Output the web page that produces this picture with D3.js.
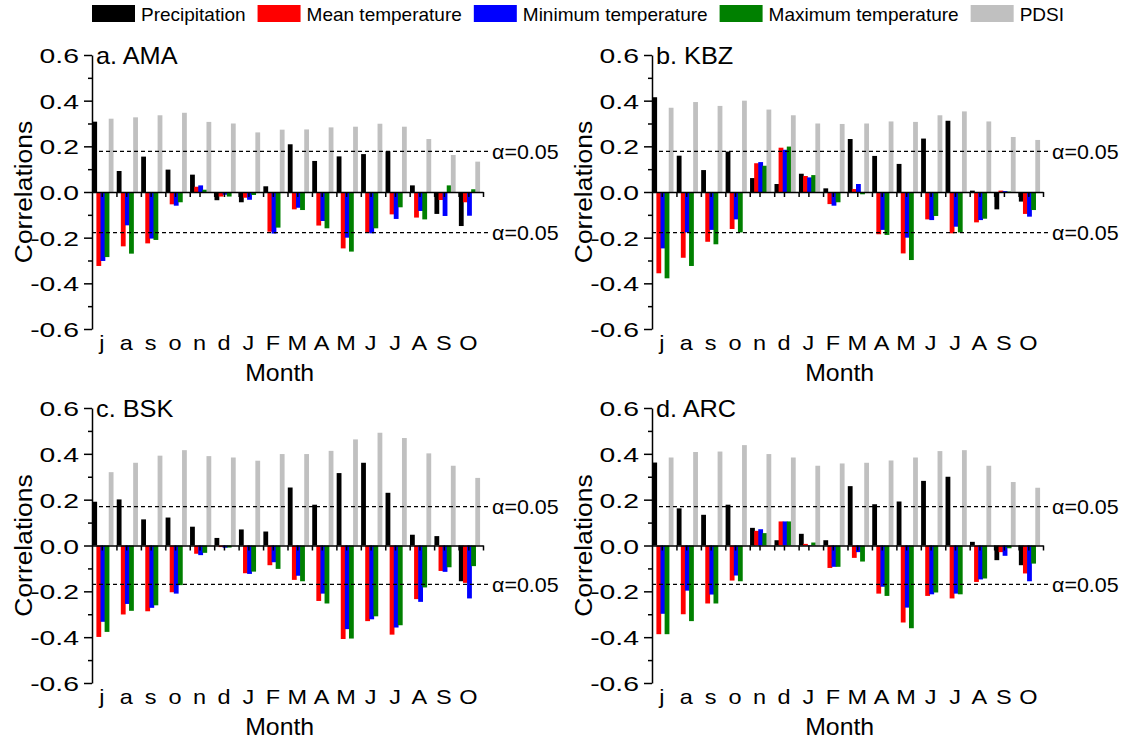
<!DOCTYPE html>
<html><head><meta charset="utf-8">
<script src="https://cdn.jsdelivr.net/npm/d3@7"></script>
<style>body{margin:0;background:#fff}text{font-family:"Liberation Sans",Arial,sans-serif;fill:#000}</style>
</head><body><svg id="chart" width="1123" height="740"></svg>
<script>
const months = ["j","a","s","o","n","d","J","F","M","A","M","J","J","A","S","O"];
const seriesNames = ["Precipitation","Mean temperature","Minimum temperature","Maximum temperature","PDSI"];
const seriesColors = ["#000000","#ff0000","#0000ff","#008000","#c0c0c0"];
const yTicks = [-0.6,-0.4,-0.2,0.0,0.2,0.4,0.6];
const yMinorTicks = [-0.5,-0.3,-0.1,0.1,0.3,0.5];
const panelTitles = ["a. AMA","b. KBZ","c. BSK","d. ARC"];
const alphaLevels = [0.178,0.178,0.17,0.17];
const alphaLabel = "α=0.05";

// a. AMA
const amaPrecip = [0.308,0.092,0.155,0.098,0.076,-0.036,-0.045,0.025,0.209,0.136,0.156,0.166,0.178,0.029,-0.096,-0.149];
const amaMeanT  = [-0.324,-0.238,-0.225,-0.054,0.023,-0.02,-0.025,-0.174,-0.076,-0.147,-0.247,-0.178,-0.098,-0.112,-0.035,-0.045];
const amaMinT   = [-0.302,-0.146,-0.204,-0.06,0.029,-0.012,-0.034,-0.182,-0.069,-0.127,-0.2,-0.181,-0.118,-0.083,-0.105,-0.104];
const amaMaxT   = [-0.285,-0.27,-0.21,-0.045,0.01,-0.02,-0.013,-0.156,-0.079,-0.159,-0.261,-0.159,-0.067,-0.12,0.029,0.012];
const amaPdsi   = [0.321,0.327,0.336,0.347,0.307,0.30,0.261,0.273,0.274,0.283,0.286,0.299,0.286,0.232,0.162,0.133];
// b. KBZ
const kbzPrecip = [0.415,0.159,0.096,0.177,0.061,0.035,0.08,0.016,0.232,0.158,0.123,0.234,0.312,0.006,-0.076,-0.042];
const kbzMeanT  = [-0.356,-0.288,-0.218,-0.162,0.126,0.194,0.07,-0.053,0.013,-0.185,-0.269,-0.12,-0.181,-0.133,0.006,-0.096];
const kbzMinT   = [-0.247,-0.177,-0.166,-0.12,0.131,0.185,0.064,-0.06,0.035,-0.166,-0.2,-0.123,-0.152,-0.123,0.004,-0.108];
const kbzMaxT   = [-0.378,-0.324,-0.229,-0.177,0.115,0.199,0.074,-0.045,-0.01,-0.188,-0.298,-0.105,-0.177,-0.117,0.002,-0.079];
const kbzPdsi   = [0.369,0.394,0.377,0.40,0.361,0.336,0.30,0.298,0.30,0.309,0.307,0.336,0.353,0.309,0.241,0.228];
// c. BSK
const bskPrecip = [0.191,0.201,0.114,0.122,0.082,0.033,0.07,0.061,0.253,0.178,0.316,0.361,0.23,0.047,0.041,-0.156];
const bskMeanT  = [-0.399,-0.301,-0.287,-0.204,-0.036,-0.007,-0.121,-0.086,-0.15,-0.242,-0.408,-0.33,-0.389,-0.234,-0.111,-0.163];
const bskMinT   = [-0.333,-0.255,-0.272,-0.21,-0.042,-0.01,-0.124,-0.073,-0.132,-0.21,-0.365,-0.322,-0.358,-0.246,-0.115,-0.231];
const bskMaxT   = [-0.377,-0.285,-0.261,-0.173,-0.032,-0.009,-0.114,-0.102,-0.156,-0.253,-0.406,-0.309,-0.348,-0.183,-0.095,-0.09];
const bskPdsi   = [0.32,0.361,0.392,0.416,0.39,0.384,0.37,0.399,0.399,0.413,0.463,0.492,0.469,0.402,0.348,0.295];
// d. ARC
const arcPrecip = [0.362,0.162,0.134,0.178,0.077,0.023,0.051,0.023,0.259,0.18,0.192,0.282,0.30,0.016,-0.064,-0.086];
const arcMeanT  = [-0.387,-0.30,-0.253,-0.153,0.064,0.105,0.007,-0.098,-0.054,-0.21,-0.336,-0.22,-0.231,-0.159,-0.029,-0.122];
const arcMinT   = [-0.298,-0.197,-0.214,-0.131,0.071,0.105,0.002,-0.093,-0.029,-0.18,-0.271,-0.213,-0.21,-0.148,-0.045,-0.156];
const arcMaxT   = [-0.387,-0.33,-0.253,-0.156,0.054,0.105,0.013,-0.093,-0.07,-0.22,-0.361,-0.205,-0.213,-0.144,-0.012,-0.079];
const arcPdsi   = [0.384,0.408,0.41,0.438,0.399,0.384,0.348,0.358,0.361,0.371,0.384,0.412,0.416,0.348,0.277,0.252];

const panelSeries = [
  [amaPrecip,amaMeanT,amaMinT,amaMaxT,amaPdsi],
  [kbzPrecip,kbzMeanT,kbzMinT,kbzMaxT,kbzPdsi],
  [bskPrecip,bskMeanT,bskMinT,bskMaxT,bskPdsi],
  [arcPrecip,arcMeanT,arcMinT,arcMaxT,arcPdsi]
];

// layout (pixels)
const layout = [
  {x0:92,x1:483,y0:55,y1:329},
  {x0:652,x1:1043,y0:55,y1:329},
  {x0:92,x1:483,y0:408,y1:683},
  {x0:652,x1:1043,y0:408,y1:683}
];

const svg = d3.select("#chart");
const AX = 1.5;

panelSeries.forEach((series, p) => {
  const L = layout[p];
  const g = svg.append("g");
  const x = d3.scaleBand().domain(d3.range(months.length)).range([L.x0, L.x1]);
  const xl = d3.scaleLinear().domain([0, months.length]).range([L.x0, L.x1]);
  const step = x.step();
  const inner = d3.scaleBand().domain(d3.range(series.length)).range([0.3, 0.3 + 0.84*step]);
  const bw = inner.bandwidth() + 0.7;
  const y = d3.scaleLinear().domain([-0.6, 0.6]).range([L.y1, L.y0]);

  // bars
  series.forEach((vals, s) => {
    g.append("g").selectAll("rect").data(vals).join("rect")
      .attr("x", (d,i) => x(i) + inner(s))
      .attr("y", d => y(Math.max(d,0)))
      .attr("width", bw)
      .attr("height", d => Math.abs(y(d) - y(0)))
      .attr("fill", seriesColors[s]);
  });

  // alpha lines
  const xEnd = L.x1 + 6;
  [alphaLevels[p], -alphaLevels[p]].forEach(a => {
    g.append("line").attr("x1", L.x0).attr("x2", xEnd)
      .attr("y1", y(a)).attr("y2", y(a))
      .attr("stroke", "#000").attr("stroke-width", 1.3).attr("stroke-dasharray", "4,3");
    g.append("text").attr("transform", `translate(${L.x1+9},${y(a)}) scale(1.02,1)`)
      .attr("dominant-baseline", "central").attr("font-size", 21).text(alphaLabel);
  });

  // x axis at zero: ticks at month positions and boundaries
  const xAxisMajor = d3.axisBottom(xl).tickValues(d3.range(months.length).map(i => i + 0.4))
    .tickSize(5).tickSizeOuter(0).tickFormat("");
  const xAxisMinor = d3.axisBottom(xl).tickValues(d3.range(1, months.length + 1))
    .tickSize(5).tickSizeOuter(0).tickFormat("");
  const gx = g.append("g").attr("transform", `translate(0,${y(0)})`).call(xAxisMajor);
  const gx2 = g.append("g").attr("transform", `translate(0,${y(0)})`).call(xAxisMinor);
  [gx, gx2].forEach(a => { a.selectAll("path,line").attr("stroke", "#000").attr("stroke-width", AX); });
  gx2.select(".domain").remove();

  // month labels at bottom
  g.append("g").selectAll("text").data(months).join("text")
    .attr("transform", (d,i) => `translate(${xl(i + 0.4)},${L.y1 + 21}) scale(1.12,1)`)
    .attr("text-anchor", "middle").attr("font-size", 21).text(d => d);

  // y axis
  const yAxis = d3.axisLeft(y).tickValues(yTicks).tickSize(8).tickSizeOuter(0).tickFormat(d => d.toFixed(1));
  const gy = g.append("g").attr("transform", `translate(${L.x0},0)`).call(yAxis);
  gy.selectAll("path,line").attr("stroke", "#000").attr("stroke-width", AX);
  gy.selectAll("text").attr("x", null).attr("dy", null)
    .attr("dominant-baseline", "central")
    .attr("transform", "translate(-13,0) scale(1.35,1)")
    .attr("font-size", 21).attr("font-family", '"Liberation Sans",Arial,sans-serif').attr("fill", "#000");
  const yAxisMinor = d3.axisLeft(y).tickValues(yMinorTicks).tickSize(4).tickSizeOuter(0).tickFormat("");
  const gym = g.append("g").attr("transform", `translate(${L.x0},0)`).call(yAxisMinor);
  gym.select(".domain").remove();
  gym.selectAll("line").attr("stroke", "#000").attr("stroke-width", AX);

  // titles
  g.append("text").attr("transform", `translate(${L.x0 + 4},${L.y0 + 9}) scale(1.1,1)`)
    .attr("font-size", 23).text(panelTitles[p]);
  g.append("text").attr("transform", `translate(${L.x0 + 0.48*(L.x1 - L.x0)},${L.y1 + 52}) scale(1.08,1)`)
    .attr("text-anchor", "middle").attr("font-size", 23).text("Month");
  g.append("text").attr("transform", `translate(${L.x0 - 69},${(L.y0 + L.y1)/2}) rotate(-90) scale(1.1,1)`)
    .attr("text-anchor", "middle").attr("dominant-baseline", "central").attr("font-size", 24).text("Correlations");
});

// legend
const lg = svg.append("g");
let lx = 92;
seriesNames.forEach((name, s) => {
  lg.append("rect").attr("x", lx).attr("y", 5).attr("width", 43).attr("height", 17).attr("fill", seriesColors[s]);
  const t = lg.append("text").attr("x", lx + 49).attr("y", 20.5).attr("font-size", 19).text(name);
  lx = lx + 49 + t.node().getComputedTextLength() + 12;
});
</script></body></html>
